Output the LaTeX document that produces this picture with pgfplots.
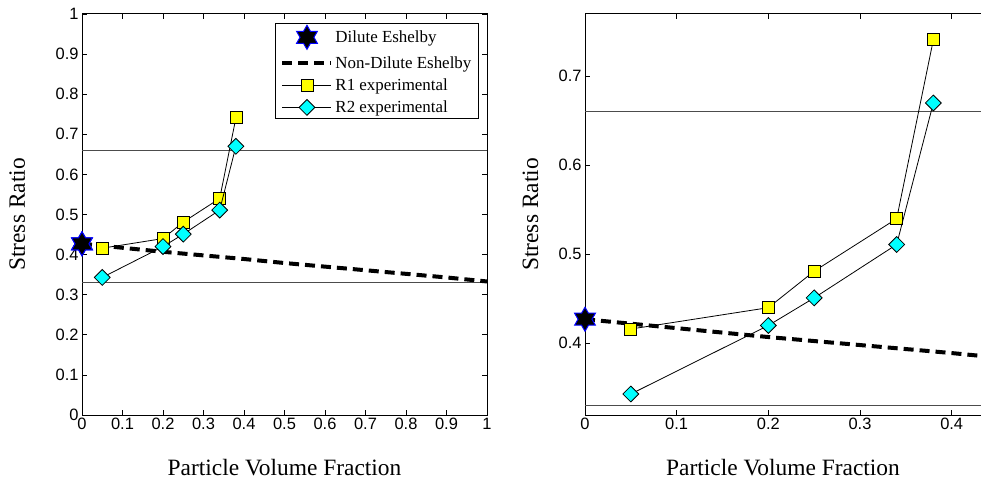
\documentclass[border=0pt]{standalone}
\usepackage{pgfplots}
\pgfplotsset{compat=1.18}
\usepackage{fontspec}
\setmainfont{Liberation Serif}
\newfontfamily\ticksf{Liberation Sans}
\definecolor{mcyan}{RGB}{0,255,255}
\definecolor{myellow}{RGB}{255,255,0}

\pgfdeclareplotmark{hexstar}{%
  \pgfpathmoveto{\pgfpointpolar{90}{\pgfplotmarksize}}%
  \pgfpathlineto{\pgfpointpolar{120}{0.577\pgfplotmarksize}}%
  \pgfpathlineto{\pgfpointpolar{150}{\pgfplotmarksize}}%
  \pgfpathlineto{\pgfpointpolar{180}{0.577\pgfplotmarksize}}%
  \pgfpathlineto{\pgfpointpolar{210}{\pgfplotmarksize}}%
  \pgfpathlineto{\pgfpointpolar{240}{0.577\pgfplotmarksize}}%
  \pgfpathlineto{\pgfpointpolar{270}{\pgfplotmarksize}}%
  \pgfpathlineto{\pgfpointpolar{300}{0.577\pgfplotmarksize}}%
  \pgfpathlineto{\pgfpointpolar{330}{\pgfplotmarksize}}%
  \pgfpathlineto{\pgfpointpolar{0}{0.577\pgfplotmarksize}}%
  \pgfpathlineto{\pgfpointpolar{30}{\pgfplotmarksize}}%
  \pgfpathlineto{\pgfpointpolar{60}{0.577\pgfplotmarksize}}%
  \pgfpathclose
  \pgfusepathqfillstroke
}

\pgfplotstableread{
x y
0 0.427
0.05 0.422
0.1 0.417
0.2 0.407
0.3 0.398
0.4 0.389
0.5 0.379
0.6 0.370
0.7 0.361
0.8 0.352
0.9 0.343
1.0 0.333
}\nondilute
\pgfplotstableread{
x y
0.05 0.416
0.20 0.440
0.25 0.481
0.34 0.540
0.38 0.741
}\rone
\pgfplotstableread{
x y
0.05 0.343
0.20 0.420
0.25 0.451
0.34 0.511
0.38 0.670
}\rtwo

\pgfplotsset{
  mystyle/.style={
    scale only axis,
    tick align=inside,
    major tick length=5bp,
    tick style={black, line width=0.6bp},
    axis line style={black, line width=1bp},
    ticklabel style={font=\ticksf\fontsize{16.5}{19}\selectfont},
    /pgf/number format/assume math mode=true,
    clip mode=individual,
    xlabel={Particle Volume Fraction},
    ylabel={Stress Ratio},
  },
  hline/.style={forget plot, black!70, line width=1bp},
  ndstyle/.style={black, line width=4bp, dash pattern=on 10bp off 6bp, no marks,
    legend image code/.code={\draw[##1] (0bp,0bp) -- (49bp,0bp);}},
  starstyle/.style={only marks, mark=hexstar, mark size=12bp,
    mark options={fill=black, draw=blue, line width=1bp},
    legend image code/.code={\draw[##1] plot coordinates {(24.5bp,0bp)};}},
  r1style/.style={black, line width=0.8bp, mark=square*, mark size=6bp,
    mark options={fill=myellow, draw=black, solid, line width=0.8bp},
    legend image code/.code={\draw[mark repeat=2, mark phase=2, ##1] plot coordinates {(0bp,0bp) (24.5bp,0bp) (49bp,0bp)};}},
  r2style/.style={black, line width=0.8bp, mark=square*, mark size=5.6bp,
    mark options={fill=mcyan, draw=black, solid, line width=0.8bp, rotate=45},
    legend image code/.code={\draw[mark repeat=2, mark phase=2, ##1] plot coordinates {(0bp,0bp) (24.5bp,0bp) (49bp,0bp)};}},
}

\begin{document}
\begin{tikzpicture}
\useasboundingbox (0,0) rectangle (981bp,480bp);
\begin{axis}[mystyle,
  at={(82bp,65bp)}, anchor=south west,
  width=405bp, height=401bp,
  xmin=0, xmax=1, ymin=0, ymax=1,
  xtick={0,0.1,0.2,0.3,0.4,0.5,0.6,0.7,0.8,0.9,1},
  ytick={0,0.1,0.2,0.3,0.4,0.5,0.6,0.7,0.8,0.9,1},
  xlabel style={at={(axis description cs:0.5,-0.152)}, anchor=base, font=\fontsize{23.5}{27}\selectfont},
  ylabel style={at={(axis description cs:-0.16,0.5)}, anchor=center, font=\fontsize{23.5}{27}\selectfont},
  legend style={at={(axis description cs:0.98,0.978)}, anchor=north east,
    draw=black, line width=1bp, font=\fontsize{17}{20}\selectfont,
    inner ysep=2bp, inner xsep=5bp, row sep=5bp},
  legend cell align=left,
]
\addplot[hline] coordinates {(0,0.66) (1,0.66)};
\addplot[hline] coordinates {(0,0.33) (1,0.33)};
\addplot[starstyle] coordinates {(0,0.427)};
\addlegendentry{Dilute Eshelby}
\addplot[ndstyle] table {\nondilute};
\addlegendentry{Non-Dilute Eshelby}
\addplot[r1style] table {\rone};
\addlegendentry{R1 experimental}
\addplot[r2style] table {\rtwo};
\addlegendentry{R2 experimental}
\addplot[starstyle, forget plot] coordinates {(0,0.427)};
\end{axis}

\begin{axis}[mystyle,
  at={(585bp,65bp)}, anchor=south west,
  width=396bp, height=401bp,
  xmin=0, xmax=0.432, ymin=0.3194, ymax=0.77,
  axis x line=box, axis y line*=left,
  y axis line style={-},
  xtick={0,0.1,0.2,0.3,0.4},
  ytick={0.4,0.5,0.6,0.7},
  xlabel style={at={(axis description cs:0.5,-0.152)}, anchor=base, font=\fontsize{23.5}{27}\selectfont},
  ylabel style={at={(axis description cs:-0.1376,0.5)}, anchor=center, font=\fontsize{23.5}{27}\selectfont},
]
\addplot[hline] coordinates {(0,0.66) (1,0.66)};
\addplot[hline] coordinates {(0,0.33) (1,0.33)};
\addplot[ndstyle] table {\nondilute};
\addplot[r1style] table {\rone};
\addplot[r2style] table {\rtwo};
\addplot[starstyle] coordinates {(0,0.427)};
\end{axis}
\end{tikzpicture}
\end{document}
